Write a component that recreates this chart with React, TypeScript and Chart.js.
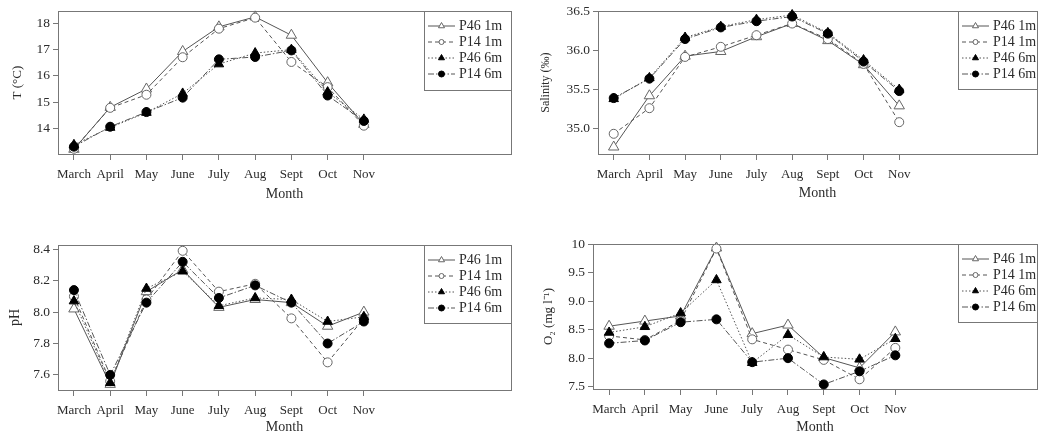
import React, { useEffect, useRef } from 'react';
import { Chart, registerables } from 'chart.js';
Chart.register(...registerables);

const FONT = "'Liberation Serif', 'Times New Roman', serif";
const TEXT = '#2b2b2b';
const AXIS = '#777';
const LINE = '#555';

// ---- data ----
const months = ['March', 'April', 'May', 'June', 'July', 'Aug', 'Sept', 'Oct', 'Nov'];
const seriesNames = ['P46 1m', 'P14 1m', 'P46 6m', 'P14 6m'];

const tempP46_1m = [13.2, 14.8, 15.5, 16.93, 17.87, 18.25, 17.55, 15.74, 14.15];
const tempP14_1m = [13.22, 14.78, 15.28, 16.71, 17.8, 18.22, 16.53, 15.57, 14.1];
const tempP46_6m = [13.37, 14.03, 14.6, 15.33, 16.45, 16.87, 17.0, 15.38, 14.34];
const tempP14_6m = [13.3, 14.06, 14.62, 15.17, 16.63, 16.72, 16.97, 15.25, 14.28];
const tempTicks = [14, 15, 16, 17, 18];

const salP46_1m = [34.76, 35.42, 35.93, 35.99, 36.18, 36.35, 36.13, 35.82, 35.29];
const salP14_1m = [34.93, 35.26, 35.92, 36.05, 36.2, 36.35, 36.15, 35.83, 35.08];
const salP46_6m = [35.38, 35.65, 36.17, 36.31, 36.4, 36.46, 36.23, 35.88, 35.5];
const salP14_6m = [35.39, 35.64, 36.15, 36.3, 36.38, 36.44, 36.22, 35.86, 35.48];
const salTicks = [35.0, 35.5, 36.0, 36.5];

const phP46_1m = [8.02, 7.54, 8.13, 8.27, 8.03, 8.08, 8.06, 7.91, 8.0];
const phP14_1m = [8.1, 7.56, 8.08, 8.39, 8.13, 8.18, 7.96, 7.68, 7.96];
const phP46_6m = [8.07, 7.55, 8.15, 8.26, 8.04, 8.09, 8.08, 7.94, 7.97];
const phP14_6m = [8.14, 7.6, 8.06, 8.32, 8.09, 8.17, 8.06, 7.8, 7.94];
const phTicks = [7.6, 7.8, 8.0, 8.2, 8.4];

const o2P46_1m = [8.56, 8.65, 8.74, 9.93, 8.43, 8.58, 8.01, 7.83, 8.46];
const o2P14_1m = [8.39, 8.32, 8.66, 9.92, 8.33, 8.15, 7.97, 7.63, 8.18];
const o2P46_6m = [8.45, 8.55, 8.79, 9.37, 7.92, 8.41, 8.02, 7.98, 8.34];
const o2P14_6m = [8.26, 8.31, 8.63, 8.68, 7.93, 8.0, 7.54, 7.77, 8.05];
const o2Ticks = [7.5, 8.0, 8.5, 9.0, 9.5, 10];

// ---- styles ----
const seriesStyles = [
  { shape: 'triangle', fill: '#fff', stroke: '#666', dash: [] as number[], r: 6, lr: 3.5 },
  { shape: 'circle', fill: '#fff', stroke: '#666', dash: [4, 3], r: 4.5, lr: 2.5 },
  { shape: 'triangle', fill: '#000', stroke: '#000', dash: [1.5, 2], r: 5.5, lr: 3.5 },
  { shape: 'circle', fill: '#000', stroke: '#000', dash: [6, 2, 1.5, 2], r: 4.5, lr: 3 },
];

const fmt1 = (v: number) => v.toFixed(1);

const panels = [
  {
    id: 'temp', box: { x: 0, y: 0, w: 520, h: 220 }, padTop: 8, padRight: 9, yW: 58, xH: 66,
    xMin: -0.44, xMax: 12.06, yMin: 13.02, yMax: 18.47, yTicks: tempTicks, fmt: (v: number) => String(v),
    title: 'T (°C)', titleSize: 13, titlePad: 10, monthPad: 17, legendW: 87, legendH: 79,
    series: [tempP46_1m, tempP14_1m, tempP46_6m, tempP14_6m],
  },
  {
    id: 'sal', box: { x: 520, y: 0, w: 524, h: 220 }, padTop: 9, padRight: 2, yW: 78, xH: 66,
    xMin: -0.44, xMax: 11.86, yMin: 34.67, yMax: 36.51, yTicks: salTicks, fmt: fmt1,
    title: 'Salinity (‰)', titleSize: 12, titlePad: 19, monthPad: 18, legendW: 79, legendH: 78,
    series: [salP46_1m, salP14_1m, salP46_6m, salP14_6m],
  },
  {
    id: 'ph', box: { x: 0, y: 220, w: 520, h: 217 }, padTop: 25, padRight: 9, yW: 58, xH: 47,
    xMin: -0.44, xMax: 12.06, yMin: 7.504, yMax: 8.427, yTicks: phTicks, fmt: fmt1,
    title: 'pH', titleSize: 14, titlePad: 7, monthPad: 1, legendW: 87, legendH: 78,
    series: [phP46_1m, phP14_1m, phP46_6m, phP14_6m],
  },
  {
    id: 'o2', box: { x: 520, y: 220, w: 524, h: 217 }, padTop: 24, padRight: 2, yW: 73, xH: 48,
    xMin: -0.45, xMax: 11.96, yMin: 7.46, yMax: 10.0, yTicks: o2Ticks,
    fmt: (v: number) => (v === 10 ? '10' : v.toFixed(1)),
    title: 'O₂ (mg l⁻¹)', titleSize: 13, titlePad: 21, monthPad: 1, legendW: 79, legendH: 78,
    series: [o2P46_1m, o2P14_1m, o2P46_6m, o2P14_6m],
  },
];

function drawMarker(ctx: CanvasRenderingContext2D, shape: string, x: number, y: number, r: number, fill: string, stroke: string) {
  ctx.beginPath();
  if (shape === 'triangle') {
    const a = Math.sin(Math.PI / 3) * r;
    ctx.moveTo(x, y - r);
    ctx.lineTo(x + a, y + r / 2);
    ctx.lineTo(x - a, y + r / 2);
    ctx.closePath();
  } else {
    ctx.arc(x, y, r, 0, Math.PI * 2);
  }
  ctx.fillStyle = fill;
  ctx.fill();
  ctx.strokeStyle = stroke;
  ctx.lineWidth = 1;
  ctx.stroke();
}

const framePlugin = {
  id: 'frame',
  beforeDatasetsDraw(chart: any) {
    const { ctx, chartArea } = chart;
    ctx.save();
    ctx.strokeStyle = AXIS;
    ctx.lineWidth = 1;
    ctx.beginPath();
    ctx.moveTo(chartArea.left, Math.round(chartArea.top) + 0.5);
    ctx.lineTo(Math.round(chartArea.right) + 0.5, Math.round(chartArea.top) + 0.5);
    ctx.lineTo(Math.round(chartArea.right) + 0.5, chartArea.bottom);
    ctx.stroke();
    ctx.restore();
  },
};

const legendPlugin = {
  id: 'boxLegend',
  afterDraw(chart: any, _args: any, opts: any) {
    const { ctx, chartArea } = chart;
    const right = Math.round(chartArea.right);
    const left = right - opts.width;
    const top = Math.round(chartArea.top);
    ctx.save();
    ctx.fillStyle = '#fff';
    ctx.fillRect(left, top, opts.width, opts.height);
    ctx.strokeStyle = AXIS;
    ctx.lineWidth = 1;
    ctx.strokeRect(left + 0.5, top + 0.5, opts.width, opts.height);
    seriesNames.forEach((name, i) => {
      const s = seriesStyles[i];
      const y = top + 15 + i * 16;
      ctx.beginPath();
      ctx.setLineDash(s.dash);
      ctx.strokeStyle = LINE;
      ctx.lineWidth = 1;
      ctx.moveTo(left + 4, y);
      ctx.lineTo(left + 31, y);
      ctx.stroke();
      ctx.setLineDash([]);
      drawMarker(ctx, s.shape, left + 17.5, y, s.lr, s.fill, s.stroke);
      ctx.fillStyle = TEXT;
      ctx.font = `14px ${FONT}`;
      ctx.textBaseline = 'middle';
      ctx.textAlign = 'left';
      ctx.fillText(name, left + 35, y + 0.5);
    });
    ctx.restore();
  },
};

function makeChart(canvas: HTMLCanvasElement, p: any) {
  const datasets = p.series.map((vals: number[], i: number) => {
    const s = seriesStyles[i];
    return {
      label: seriesNames[i],
      data: vals.map((v, j) => ({ x: j, y: v })),
      borderColor: LINE,
      borderWidth: 1,
      borderDash: s.dash,
      pointStyle: s.shape,
      pointRadius: s.r,
      pointBackgroundColor: s.fill,
      pointBorderColor: s.stroke,
      pointBorderWidth: 1,
      fill: false,
      tension: 0,
      order: 4 - i,
      clip: false,
    };
  });
  return new Chart(canvas, {
    type: 'line',
    data: { datasets },
    options: {
      animation: false,
      responsive: false,
      events: [],
      layout: { padding: { top: p.padTop, right: p.padRight, left: 0, bottom: 0 } },
      plugins: {
        legend: { display: false },
        tooltip: { enabled: false },
        boxLegend: { width: p.legendW, height: p.legendH },
      } as any,
      scales: {
        x: {
          type: 'linear',
          min: p.xMin,
          max: p.xMax,
          afterBuildTicks: (s: any) => {
            s.ticks = months.map((_, i) => ({ value: i }));
          },
          afterFit: (s: any) => {
            s.height = p.xH;
          },
          ticks: {
            autoSkip: false,
            maxRotation: 0,
            minRotation: 0,
            padding: 7,
            color: TEXT,
            font: { family: FONT, size: 13 },
            callback: (v: any) => months[v as number] ?? '',
          },
          grid: { drawOnChartArea: false, drawTicks: true, tickLength: 6, color: AXIS },
          border: { display: true, color: AXIS, width: 1 },
          title: {
            display: true,
            text: 'Month',
            color: TEXT,
            font: { family: FONT, size: 14 },
            padding: { top: 0, bottom: p.monthPad },
          },
        },
        y: {
          type: 'linear',
          min: p.yMin,
          max: p.yMax,
          afterBuildTicks: (s: any) => {
            s.ticks = p.yTicks.map((v: number) => ({ value: v }));
          },
          afterFit: (s: any) => {
            s.width = p.yW;
          },
          ticks: {
            padding: 3,
            color: TEXT,
            font: { family: FONT, size: 13.5 },
            callback: (v: any) => p.fmt(v as number),
          },
          grid: { drawOnChartArea: false, drawTicks: true, tickLength: 5, color: AXIS },
          border: { display: true, color: AXIS, width: 1 },
          title: {
            display: true,
            text: p.title,
            color: TEXT,
            font: { family: FONT, size: p.titleSize },
            padding: { top: p.titlePad, bottom: 0 },
          },
        },
      },
    } as any,
    plugins: [framePlugin, legendPlugin],
  });
}

export default function App() {
  const refs = useRef<(HTMLCanvasElement | null)[]>([]);
  useEffect(() => {
    const charts = panels.map((p, i) => makeChart(refs.current[i] as HTMLCanvasElement, p));
    return () => charts.forEach((c) => c.destroy());
  }, []);
  return (
    <div style={{ position: 'absolute', left: 0, top: 0, width: 1044, height: 437, background: '#fff', overflow: 'hidden' }}>
      {panels.map((p, i) => (
        <canvas
          key={p.id}
          ref={(el) => {
            refs.current[i] = el;
          }}
          width={p.box.w}
          height={p.box.h}
          style={{ position: 'absolute', left: p.box.x, top: p.box.y, width: p.box.w, height: p.box.h, display: 'block' }}
        />
      ))}
    </div>
  );
}
